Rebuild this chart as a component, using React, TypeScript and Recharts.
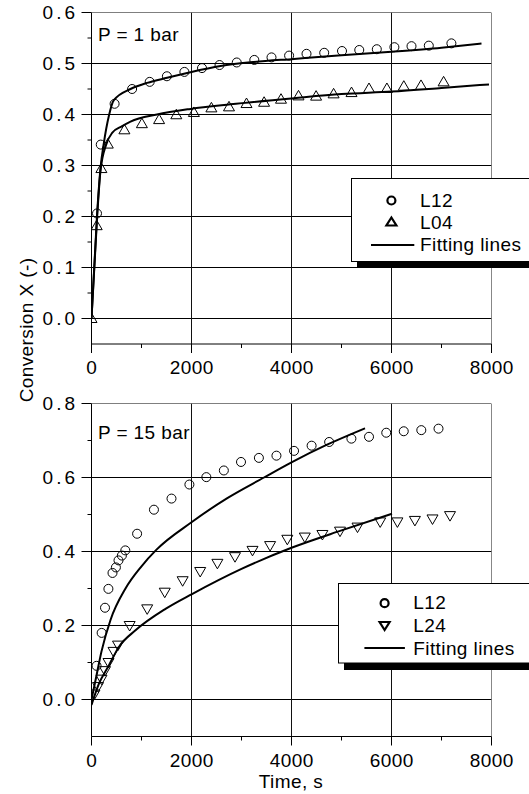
import React from 'react';
import { ComposedChart, Line, Scatter, XAxis, YAxis } from 'recharts';

const FONT = '"Liberation Sans", Arial, Helvetica, sans-serif';

// time axis (s)
const timeTicks = [0, 1000, 2000, 3000, 4000, 5000, 6000, 7000, 8000];
const timeMajor = [0, 2000, 4000, 6000, 8000];
const timeGrid = [2000, 4000, 6000, 8000];

// P = 1 bar
const p1Ticks = [0, 0.05, 0.1, 0.15, 0.2, 0.25, 0.3, 0.35, 0.4, 0.45, 0.5, 0.55, 0.6];
const p1Major = [0, 0.1, 0.2, 0.3, 0.4, 0.5, 0.6];
const p1L12t = [110, 185, 462, 812, 1164, 1508, 1858, 2210, 2560, 2905, 3256, 3600, 3952, 4300, 4654, 5010, 5355, 5706, 6058, 6400, 6746, 7198];
const p1L12x = [0.206, 0.341, 0.421, 0.45, 0.464, 0.475, 0.4835, 0.491, 0.497, 0.502, 0.507, 0.512, 0.5155, 0.519, 0.521, 0.5245, 0.5265, 0.528, 0.532, 0.534, 0.535, 0.5395];
const p1L04t = [0, 104, 198, 326, 658, 1008, 1352, 1696, 2048, 2398, 2750, 3100, 3452, 3790, 4140, 4492, 4842, 5200, 5550, 5908, 6246, 6590, 7042];
const p1L04x = [0, 0.182, 0.294, 0.342, 0.37, 0.382, 0.39, 0.3995, 0.404, 0.413, 0.415, 0.4215, 0.424, 0.43, 0.4365, 0.436, 0.4405, 0.443, 0.451, 0.451, 0.4555, 0.457, 0.464];
const p1FitAt = [0, 113, 180, 247, 347, 447, 780, 1113, 1513, 1980, 2580, 3250, 4050, 5000, 6000, 7000, 7800];
const p1FitA = [0, 0.207, 0.295, 0.344, 0.397, 0.428, 0.45, 0.462, 0.472, 0.483, 0.495, 0.503, 0.509, 0.516, 0.523, 0.531, 0.539];
const p1FitBt = [0, 113, 180, 293, 413, 613, 780, 1310, 1980, 2780, 4050, 5000, 6000, 7000, 7950];
const p1FitB = [0, 0.2, 0.29, 0.341, 0.364, 0.377, 0.386, 0.4, 0.411, 0.42, 0.432, 0.44, 0.445, 0.452, 0.459];

// P = 15 bar
const p15Ticks = [0, 0.1, 0.2, 0.3, 0.4, 0.5, 0.6, 0.7, 0.8];
const p15Major = [0, 0.2, 0.4, 0.6, 0.8];
const p15L12t = [101, 203, 270, 338, 420, 488, 540, 608, 676, 912, 1249, 1600, 1958, 2297, 2647, 2990, 3348, 3699, 4051, 4402, 4753, 5198, 5550, 5895, 6245, 6596, 6940];
const p15L12x = [0.091, 0.18, 0.248, 0.299, 0.342, 0.357, 0.376, 0.389, 0.403, 0.448, 0.513, 0.543, 0.581, 0.601, 0.619, 0.642, 0.653, 0.659, 0.672, 0.686, 0.696, 0.705, 0.71, 0.721, 0.725, 0.728, 0.732];
const p15L24t = [60, 130, 200, 270, 340, 440, 530, 763, 1114, 1465, 1823, 2174, 2518, 2870, 3220, 3572, 3916, 4266, 4618, 4970, 5320, 5774, 6118, 6468, 6820, 7170];
const p15L24x = [0.015, 0.035, 0.055, 0.078, 0.1, 0.13, 0.147, 0.2, 0.245, 0.29, 0.321, 0.346, 0.368, 0.386, 0.403, 0.416, 0.433, 0.439, 0.446, 0.455, 0.466, 0.48, 0.48, 0.484, 0.488, 0.497];
const p15FitAt = [0, 100, 200, 380, 680, 1000, 1300, 2000, 2700, 3450, 4000, 4700, 5470];
const p15FitA = [0, 0.065, 0.13, 0.215, 0.3, 0.36, 0.405, 0.479, 0.543, 0.6, 0.641, 0.688, 0.733];
const p15FitBt = [0, 147, 347, 547, 880, 1480, 2010, 3000, 4000, 5000, 6010];
const p15FitB = [-0.015, 0.042, 0.092, 0.142, 0.187, 0.245, 0.285, 0.353, 0.41, 0.457, 0.502];

const pts = (t: number[], v: number[]) => t.map((x, i) => ({ x, y: v[i] }));

const circle = (p: any) => <circle cx={p.cx} cy={p.cy} r={4.5} fill="none" stroke="#000" strokeWidth={1} />;
const triUp = (p: any) => (
  <polygon points={`${p.cx},${p.cy - 5.5} ${p.cx - 5.5},${p.cy + 4} ${p.cx + 5.5},${p.cy + 4}`} fill="none" stroke="#000" strokeWidth={1} />
);
const triDown = (p: any) => (
  <polygon points={`${p.cx},${p.cy + 5.5} ${p.cx - 5.5},${p.cy - 4} ${p.cx + 5.5},${p.cy - 4}`} fill="none" stroke="#000" strokeWidth={1} />
);

const txt = { fontFamily: FONT, fontSize: 19, fill: '#000', style: { letterSpacing: '0.4px' } };
const ytxt = { fontFamily: FONT, fontSize: 19, fill: '#000', style: { letterSpacing: '3px' } };

const xTick = (props: any) => {
  const { x, y, payload } = props;
  const major = timeMajor.includes(payload.value);
  return (
    <g>
      <line x1={x} x2={x} y1={y} y2={y + (major ? 9 : 4)} stroke="#000" />
      {major && (
        <text x={x + 0.2} y={y + 30} textAnchor="middle" {...txt}>
          {payload.value}
        </text>
      )}
    </g>
  );
};

const yTick = (majors: number[]) => (props: any) => {
  const { x, y, payload } = props;
  const major = majors.includes(payload.value);
  return (
    <g>
      <line x1={x - (major ? 10 : 4)} x2={x} y1={y} y2={y} stroke="#000" />
      {major && (
        <text x={x - 13.5} y={y + 6.5} textAnchor="end" {...ytxt}>
          {payload.value.toFixed(1)}
        </text>
      )}
    </g>
  );
};

interface PanelProps {
  height: number;
  top: number;
  bottom: number;
  domain: [number, number];
  ticks: number[];
  majors: number[];
  children: React.ReactNode;
}

function Panel({ height, top, bottom, domain, ticks, majors, children }: PanelProps) {
  const hGrid = majors.map((v) => [{ x: 0, y: v }, { x: 8000, y: v }]);
  const vGrid = timeGrid.map((v) => [{ x: v, y: domain[0] }, { x: v, y: domain[1] }]);
  return (
    <ComposedChart width={529} height={height} margin={{ top, right: 37.5, left: 31.5, bottom }}>
      <XAxis
        dataKey="x"
        type="number"
        domain={[0, 8000]}
        ticks={timeTicks}
        interval={0}
        allowDataOverflow
        height={30}
        tickSize={0}
        tickMargin={0}
        tickLine={false}
        axisLine={{ stroke: '#000' }}
        tick={xTick}
      />
      <YAxis
        type="number"
        domain={domain}
        ticks={ticks}
        interval={0}
        allowDataOverflow
        width={60}
        tickSize={0}
        tickMargin={0}
        tickLine={false}
        axisLine={{ stroke: '#000' }}
        tick={yTick(majors)}
      />
      {hGrid.map((d, i) => (
        <Line key={'h' + i} data={d} dataKey="y" type="linear" stroke="#000" strokeWidth={1} dot={false} activeDot={false} isAnimationActive={false} />
      ))}
      {vGrid.map((d, i) => (
        <Line key={'v' + i} data={d} dataKey="y" type="linear" stroke="#111" strokeWidth={1} dot={false} activeDot={false} isAnimationActive={false} />
      ))}
      {children}
    </ComposedChart>
  );
}

export default function App() {
  return (
    <div style={{ position: 'absolute', left: 0, top: 0, width: 529, height: 794, overflow: 'hidden', background: '#fff' }}>
      <div style={{ position: 'absolute', left: 0, top: 0 }}>
        <Panel height={390} top={12.5} bottom={16} domain={[-0.05, 0.6]} ticks={p1Ticks} majors={p1Major}>
          <Line data={pts(p1FitAt, p1FitA)} dataKey="y" type="monotone" stroke="#000" strokeWidth={2} dot={false} isAnimationActive={false} />
          <Line data={pts(p1FitBt, p1FitB)} dataKey="y" type="monotone" stroke="#000" strokeWidth={2} dot={false} isAnimationActive={false} />
          <Scatter data={pts(p1L12t, p1L12x)} dataKey="y" shape={circle} isAnimationActive={false} />
          <Scatter data={pts(p1L04t, p1L04x)} dataKey="y" shape={triUp} isAnimationActive={false} />
        </Panel>
      </div>
      <div style={{ position: 'absolute', left: 0, top: 390 }}>
        <Panel height={404} top={13.5} bottom={27.5} domain={[-0.1, 0.8]} ticks={p15Ticks} majors={p15Major}>
          <Line data={pts(p15FitAt, p15FitA)} dataKey="y" type="monotone" stroke="#000" strokeWidth={2} dot={false} isAnimationActive={false} />
          <Line data={pts(p15FitBt, p15FitB)} dataKey="y" type="monotone" stroke="#000" strokeWidth={2} dot={false} isAnimationActive={false} />
          <Scatter data={pts(p15L12t, p15L12x)} dataKey="y" shape={circle} isAnimationActive={false} />
          <Scatter data={pts(p15L24t, p15L24x)} dataKey="y" shape={triDown} isAnimationActive={false} />
        </Panel>
      </div>
      <svg width={529} height={794} style={{ position: 'absolute', left: 0, top: 0, pointerEvents: 'none' }}>
        <text x={98} y={40.7} {...txt}>P = 1 bar</text>
        <text x={98} y={439} {...txt}>P = 15 bar</text>
        <text x={291} y={788} textAnchor="middle" {...txt}>Time, s</text>
        <text x={32.5} y={330} textAnchor="middle" transform="rotate(-90 32.5 330)" {...txt}>Conversion X (-)</text>

        <rect x={357} y={184} width={300} height={84} fill="#000" />
        <rect x={351.5} y={178.5} width={300} height={83} fill="#fff" stroke="#000" />
        <circle cx={391.4} cy={200.5} r={4} fill="none" stroke="#000" strokeWidth={2.2} />
        <text x={420} y={206.5} {...txt}>L12</text>
        <polygon points="391.4,217.5 386.4,225.5 396.4,225.5" fill="none" stroke="#000" strokeWidth={2.2} />
        <text x={420} y={228.8} {...txt}>L04</text>
        <line x1={371} x2={414.3} y1={245.1} y2={245.1} stroke="#000" strokeWidth={2} />
        <text x={420} y={250.9} {...txt}>Fitting lines</text>

        <rect x={344} y={589} width={300} height={81} fill="#000" />
        <rect x={338.5} y={583.5} width={300} height={79.5} fill="#fff" stroke="#000" />
        <circle cx={384.6} cy={603.2} r={4} fill="none" stroke="#000" strokeWidth={2.2} />
        <text x={413.3} y={609.4} {...txt}>L12</text>
        <polygon points="384.6,630 379.6,622 389.6,622" fill="none" stroke="#000" strokeWidth={2.2} />
        <text x={413.3} y={631.7} {...txt}>L24</text>
        <line x1={364.4} x2={404.9} y1={648} y2={648} stroke="#000" strokeWidth={2} />
        <text x={413.3} y={654.9} {...txt}>Fitting lines</text>
      </svg>
    </div>
  );
}
